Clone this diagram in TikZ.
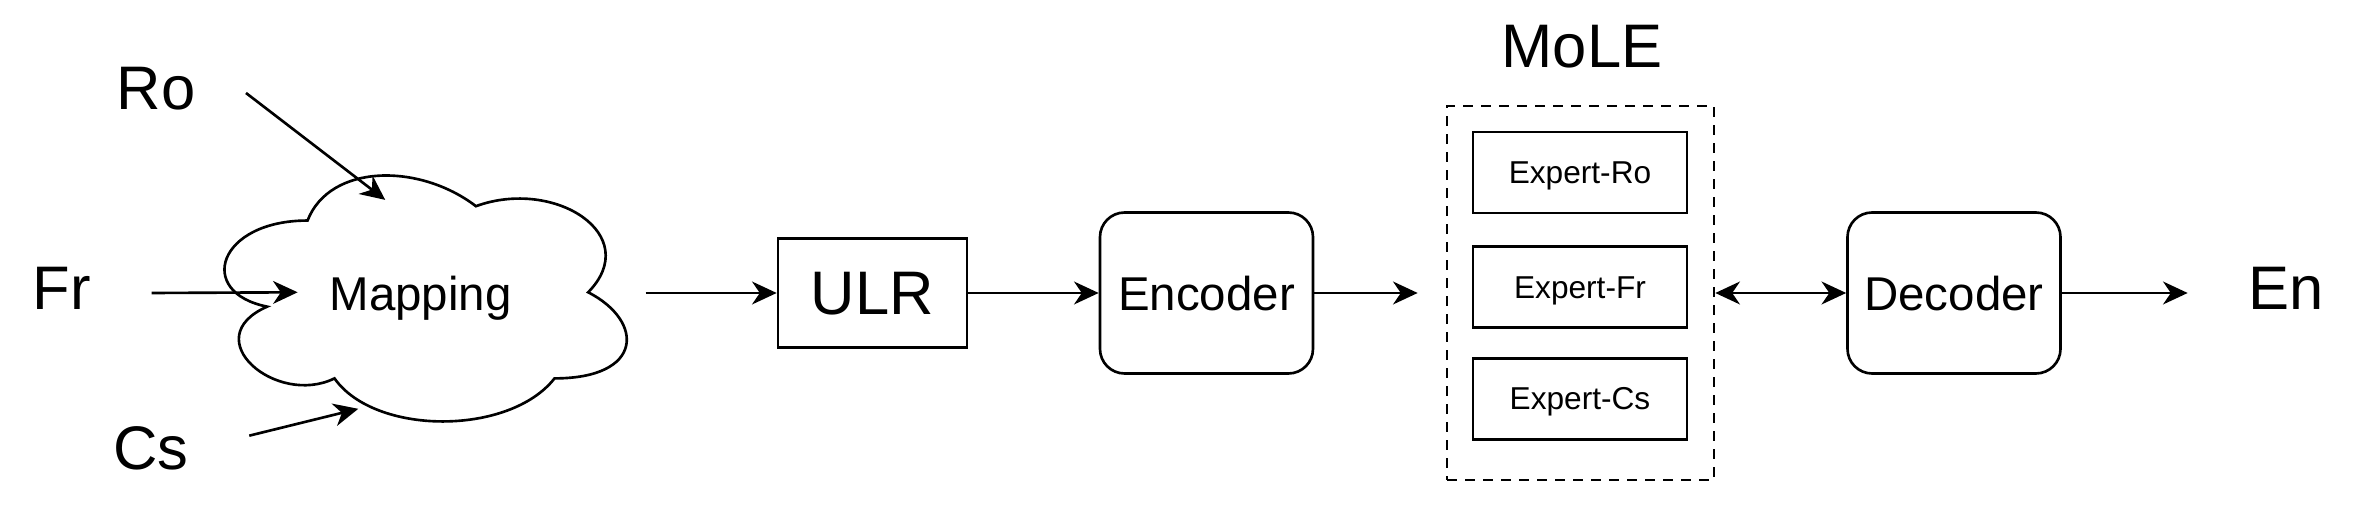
\documentclass[tikz,border=0pt]{standalone}
\usepackage{fontspec}
\setmainfont{Liberation Sans}
\usetikzlibrary{arrows.meta, positioning}

\begin{document}
\begin{tikzpicture}[
  >={Stealth[length=7pt, width=6.5pt, inset=2.2pt]},
  lang/.style={font=\fontsize{17.5}{21}\selectfont, text depth=0.1cm, inner xsep=0.6cm, inner ysep=0.1cm},
  blk/.style={rectangle, draw, line width=0.75pt, inner sep=0pt, text depth=0pt,
    font=\fontsize{13.5}{16}\selectfont, minimum width=2.13cm, minimum height=1.61cm},
  expert/.style={rectangle, draw, line width=0.75pt, inner sep=0pt, text depth=0pt,
    font=\fontsize{9}{11}\selectfont, minimum width=2.14cm, minimum height=0.81cm},
  flow/.style={->, line width=0.75pt},
]
\useasboundingbox (0,2.93) rectangle (23.66,-2.21);

%% -- Languages ------------------------------------------------
\node[lang] at (0.62, 0) (fr) {Fr};
\node[lang, inner xsep=0.5cm] at (1.56, 2.00) (ro) {Ro};
\node[lang] at (1.51, -1.60) (cs) {Cs};
\node[lang] at (22.86, 0) (en) {En};

%% -- Mapping cloud ---------------------------------------------
\node[inner sep=0pt, text depth=0pt, font=\fontsize{13.5}{16}\selectfont,
  minimum width=4.49cm, minimum height=2.87cm] at (4.205, 0) (map) {Mapping};
\begin{scope}[shift={(map.north west)}, x=4.49cm, y=-2.87cm]
  \draw[line width=0.75pt] (0.25,0.25) .. controls (0.05,0.25) and (0,0.5) .. (0.16,0.55)
    .. controls (0,0.66) and (0.18,0.9) .. (0.31,0.8)
    .. controls (0.4,1) and (0.7,1) .. (0.8,0.8)
    .. controls (1,0.8) and (1,0.6) .. (0.875,0.5)
    .. controls (1,0.3) and (0.8,0.1) .. (0.625,0.2)
    .. controls (0.5,0.05) and (0.3,0.05) .. (0.25,0.25) -- cycle;
  \coordinate (mapRo) at (0.423,0.178);
  \coordinate (mapFr) at (0.228,0.5);
  \coordinate (mapCs) at (0.363,0.906);
\end{scope}

%% -- Blocks -----------------------------------------------------
\node[blk, rounded corners=0pt, font=\fontsize{17.5}{21}\selectfont,
  minimum width=1.89cm, minimum height=1.09cm] at (8.725, 0) (ulr) {ULR};
\node[blk, rounded corners=7pt] at (12.065, 0) (enc) {Encoder};
\node[blk, rounded corners=7pt] at (19.54, 0) (dec) {Decoder};

%% -- Mixture of language experts ---------------------------------
\node[draw, line width=0.75pt, dash pattern=on 0.1cm off 0.08cm,
  minimum width=2.67cm, minimum height=3.74cm] at (15.805, 0) (mole) {};
\node[font=\fontsize{17.5}{21}\selectfont] at (15.82, 2.46) (moleLbl) {MoLE};
\node[expert] at (15.80, 1.205) (exRo) {Expert-Ro};
\node[expert, below=0.31cm of exRo] (exFr) {Expert-Fr};
\node[expert, below=0.28cm of exFr] (exCs) {Expert-Cs};

%% Connectors
\draw[flow] (ro.east) -- (mapRo);
\draw[flow] (fr.east) -- (mapFr);
\draw[flow] (cs.10) -- (mapCs);
\draw[flow] (map.east) -- (ulr.west);
\draw[flow] (ulr) -- (enc);
\draw[flow, shorten >=0.28cm] (enc) -- (mole);
\draw[flow, <->] (mole) -- (dec);
\draw[flow] (dec) -- (en);

\end{tikzpicture}
\end{document}
